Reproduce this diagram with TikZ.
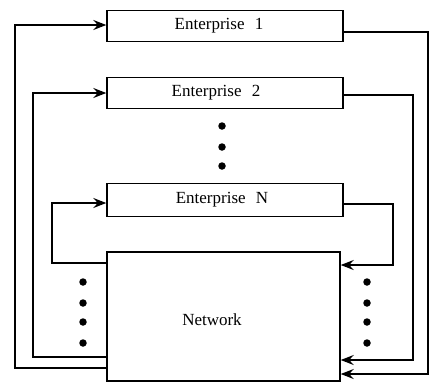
\documentclass[tikz,border=0pt]{standalone}
\usepackage{fontspec}
\setmainfont{Liberation Serif}
\usetikzlibrary{arrows.meta}
\begin{document}
\begin{tikzpicture}[x=1pt,y=-1pt,
  ebox/.style={draw, line width=1.4pt, minimum width=236pt, minimum height=31pt,
    inner sep=0pt, font=\fontsize{17}{20}\selectfont},
  link/.style={line width=1.4pt},
  arr/.style={link, -{Stealth[length=13pt,width=10pt,inset=4.5pt]}},
  dotmark/.style={circle, fill=black, inner sep=0pt, minimum size=7.5pt}]
\useasboundingbox (0,0) rectangle (430,383);

% enterprise boxes and the network
\node[ebox] (e1) at (225,26) {\hspace{-12pt}Enterprise\hspace{0.6em}1};
\node[ebox] (e2) at (225,93) {\hspace{-18pt}Enterprise\hspace{0.6em}2};
\node[ebox, minimum height=33pt] (eN) at (225,200) {\hspace{-6pt}Enterprise\hspace{0.6em}N};
\node[draw, line width=1.4pt, minimum width=233pt, minimum height=129pt, inner sep=0pt]
  (net) at (223.5,316.5) {};
\node[font=\fontsize{17}{20}\selectfont] (netlabel) at (212,320) {Network};

% turning points of the loops
\coordinate (r1) at (428,374);
\coordinate (l1) at (15,368);
\coordinate (r2) at (413,360);
\coordinate (l2) at (33,357);
\coordinate (rN) at (393,265);
\coordinate (lN) at (52,263);

% enterprise -> network
\draw[arr] ([yshift=-6pt]e1.east) -| (r1) -- (net.east |- r1);
\draw[arr] ([yshift=-2pt]e2.east) -| (r2) -- (net.east |- r2);
\draw[arr] ([yshift=-4pt]eN.east) -| (rN) -- (net.east |- rN);

% network -> enterprise
\draw[arr] (net.west |- l1) -- (l1) |- ([yshift=1pt]e1.west);
\draw[arr] (net.west |- l2) -- (l2) |- (e2.west);
\draw[arr] (net.west |- lN) -- (lN) |- ([yshift=-3pt]eN.west);

% ellipsis dots
\foreach \y [count=\i] in {126,147,166} \node[dotmark] (dm\i) at (222,\y) {};
\foreach \y [count=\i] in {282,303,322,343} {
  \node[dotmark] (dl\i) at (83,\y) {};
  \node[dotmark] (dr\i) at (367,\y) {};
}
\end{tikzpicture}
\end{document}
